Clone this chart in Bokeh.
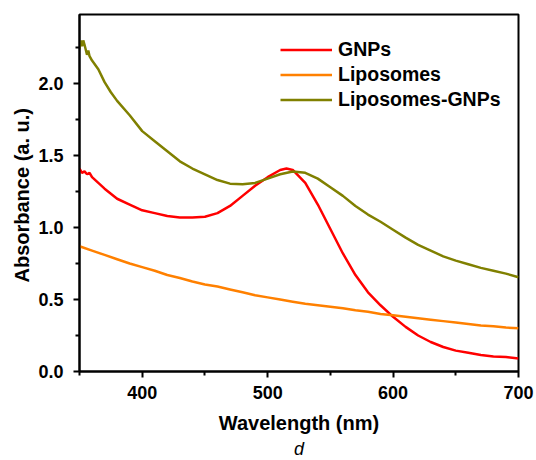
from bokeh.plotting import figure
from bokeh.models import (Range1d, FixedTicker, Legend, LegendItem, Title,
                          PrintfTickFormatter)
from bokeh.embed import file_html
from bokeh.resources import INLINE

# ---- data ----
gnps_wl = [350, 352, 354, 356, 358, 360, 365, 370, 380, 390, 400, 410, 420, 430, 440, 450,
           460, 470, 480, 490, 500, 510, 515, 520, 530, 540, 550, 560, 570, 580, 590, 600,
           610, 620, 630, 640, 650, 660, 670, 680, 690, 700]
gnps_abs = [1.41, 1.38, 1.39, 1.37, 1.38, 1.35, 1.31, 1.27, 1.20, 1.16, 1.12, 1.10, 1.08, 1.07, 1.07, 1.075,
            1.10, 1.15, 1.22, 1.29, 1.35, 1.40, 1.41, 1.40, 1.31, 1.16, 0.99, 0.82, 0.67, 0.55, 0.46, 0.38,
            0.31, 0.25, 0.205, 0.17, 0.145, 0.13, 0.115, 0.105, 0.10, 0.09]

lipo_wl = [350, 360, 370, 380, 390, 400, 410, 420, 430, 440, 450, 460, 470, 480, 490, 500,
           510, 520, 530, 540, 550, 560, 570, 580, 590, 600, 610, 620, 630, 640, 650, 660,
           670, 680, 690, 700]
lipo_abs = [0.87, 0.84, 0.81, 0.78, 0.75, 0.725, 0.70, 0.67, 0.65, 0.625, 0.605, 0.59, 0.57, 0.55, 0.53, 0.515,
            0.50, 0.485, 0.47, 0.46, 0.45, 0.44, 0.425, 0.415, 0.40, 0.39, 0.38, 0.37, 0.36, 0.35, 0.34, 0.33,
            0.32, 0.315, 0.305, 0.30]

lg_wl = [350, 351, 352, 353, 354, 356, 357, 358, 360, 365, 370, 375, 380, 390, 400, 410, 420, 430,
         440, 450, 460, 470, 480, 490, 500, 510, 520, 530, 540, 550, 560, 570, 580, 590, 600,
         610, 620, 630, 640, 650, 660, 670, 680, 690, 700]
lg_abs = [2.24, 2.30, 2.26, 2.30, 2.27, 2.20, 2.23, 2.19, 2.16, 2.10, 2.01, 1.94, 1.88, 1.78, 1.67, 1.60, 1.53, 1.46,
          1.41, 1.37, 1.33, 1.305, 1.30, 1.31, 1.34, 1.37, 1.39, 1.38, 1.34, 1.28, 1.22, 1.15, 1.09, 1.04, 0.985,
          0.93, 0.88, 0.84, 0.80, 0.77, 0.745, 0.72, 0.70, 0.68, 0.655]

x_major = [400, 500, 600, 700]
x_minor = [350, 450, 550, 650]
y_major = [0.0, 0.5, 1.0, 1.5, 2.0]
y_minor = [0.25, 0.75, 1.25, 1.75, 2.25]

FONT = "Liberation Sans"

p = figure(width=536, height=460, output_backend="svg", toolbar_location=None,
           x_range=Range1d(350, 700), y_range=Range1d(0, 2.48),
           min_border_left=79, min_border_right=18, min_border_top=14, min_border_bottom=89)
p.xgrid.visible = False
p.ygrid.visible = False
p.outline_line_color = "black"
p.outline_line_width = 2
p.outline_line_alpha = 1.0

r1 = p.line(gnps_wl, gnps_abs, line_color="#FF0000", line_width=2.5)
r2 = p.line(lipo_wl, lipo_abs, line_color="#FF8000", line_width=2.5)
r3 = p.line(lg_wl, lg_abs, line_color="#808000", line_width=2.5)

for ax in (p.xaxis[0], p.yaxis[0]):
    ax.axis_line_width = 2
    ax.axis_line_color = "black"
    ax.major_tick_line_width = 2
    ax.minor_tick_line_width = 2
    ax.major_tick_in = 0
    ax.major_tick_out = 6
    ax.minor_tick_in = 0
    ax.minor_tick_out = 4
    ax.major_label_text_font = FONT
    ax.major_label_text_font_style = "bold"
    ax.major_label_text_font_size = "18px"
    ax.major_label_text_color = "black"
    ax.axis_label_text_font = FONT
    ax.axis_label_text_font_style = "bold"
    ax.axis_label_text_font_size = "20px"
    ax.axis_label_text_color = "black"

p.xaxis[0].ticker = FixedTicker(ticks=x_major, minor_ticks=x_minor)
p.yaxis[0].ticker = FixedTicker(ticks=y_major, minor_ticks=y_minor)
p.yaxis[0].formatter = PrintfTickFormatter(format="%.1f")
p.xaxis[0].axis_label = "Wavelength (nm)"
p.xaxis[0].major_label_standoff = 8
p.yaxis[0].major_label_standoff = 10
p.xaxis[0].axis_label_standoff = 10

# y-axis title (sits a little below the frame centre, as in the reference)
ytitle = Title(text="Absorbance (a. u.)", align="left", offset=89, text_font=FONT,
               text_font_style="bold", text_font_size="20px", text_color="black", standoff=6)
p.add_layout(ytitle, "left")

legend = Legend(items=[LegendItem(label="GNPs", renderers=[r1]),
                       LegendItem(label="Liposomes", renderers=[r2]),
                       LegendItem(label="Liposomes-GNPs", renderers=[r3])],
                location=(201, 259.5))
legend.border_line_color = None
legend.background_fill_alpha = 0
legend.padding = 0
legend.margin = 0
legend.spacing = 0
legend.glyph_width = 52
legend.glyph_height = 25
legend.label_height = 25
legend.label_standoff = 6
legend.label_text_font = FONT
legend.label_text_font_style = "bold"
legend.label_text_font_size = "19.5px"
legend.label_text_color = "black"
p.add_layout(legend, "center")

t = Title(text="d", align="center", text_font=FONT, text_font_style="italic",
          text_font_size="18px", text_color="black", standoff=0)
p.add_layout(t, "below")

open("out.html", "w").write(file_html(p, INLINE))
